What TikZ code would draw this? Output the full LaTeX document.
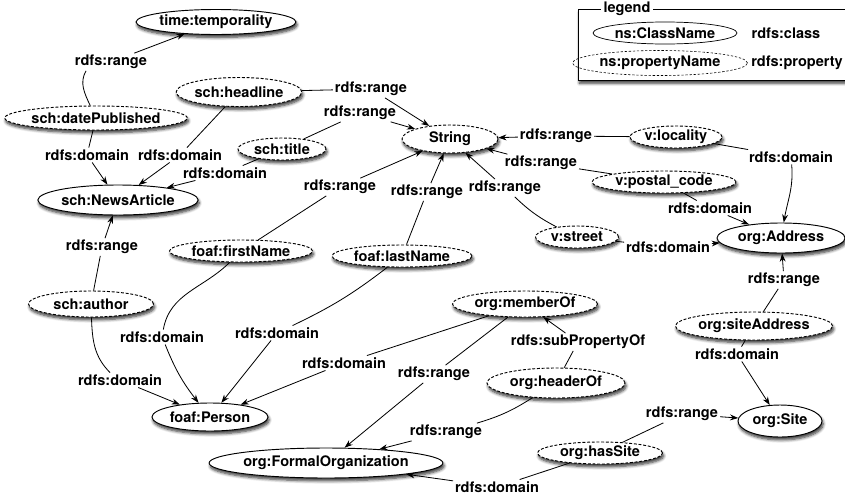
\documentclass[tikz,border=0pt]{standalone}
\usepackage{fontspec}
\setmainfont{TeX Gyre Heros}
\usetikzlibrary{shapes.geometric,arrows.meta,shadows.blur}

\begin{document}
\begin{tikzpicture}[
    x=0.03cm, y=0.03cm,
    font=\bfseries\fontsize{12.4}{14}\selectfont,
    sz/.style 2 args={minimum width=#1*0.03cm, minimum height=#2*0.03cm},
    dropsh/.style={blur shadow={shadow xshift=1pt, shadow yshift=-2.5pt,
        shadow blur radius=2.5pt, shadow blur steps=6, shadow opacity=80}},
    cls/.style={ellipse, draw, line width=0.8pt, fill=white, inner sep=0pt, dropsh},
    prop/.style={cls, dash pattern=on 2.5pt off 1.5pt},
    lbl/.style={fill=white, inner sep=1.5pt},
    ln/.style={line width=0.7pt},
    arr/.style={ln, -{Stealth[length=7pt,width=5pt]}}
  ]
  \useasboundingbox (0,0) rectangle (845,-497);

  % legend
  \node[draw, line width=0.6pt, fill=white, dropsh, anchor=north west,
        minimum width=290*0.03cm, minimum height=71*0.03cm] (legendbox) at (578,-9) {};
  \node[fill=white, inner sep=2pt] (legendtitle) at (627,-9) {legend};
  \node[ellipse, draw, line width=0.6pt, inner sep=0pt, sz={144}{22}] (keycls) at (665,-33) {ns:ClassName};
  \node[ellipse, draw, line width=0.5pt, dash pattern=on 2pt off 1.5pt, inner sep=0pt,
        sz={175}{25}] (keyprop) at (660,-63) {ns:propertyName};
  \node (keyclstxt) at (786,-33) {rdfs:class};
  \node (keyproptxt) at (797,-63) {rdfs:property};

  % classes and properties
  \node[cls, sz={157}{25}] (temporality) at (216,-22) {time:temporality};
  \node[prop, sz={125}{29}] (headline) at (239,-92) {sch:headline};
  \node[prop, sz={180}{24}] (datepub) at (96,-118) {sch:datePublished};
  \node[prop, sz={88}{22}] (title) at (282,-149) {sch:title};
  \node[prop, sz={96}{28}] (string) at (450,-139) {String};
  \node[cls, sz={153}{30}] (news) at (118,-200) {sch:NewsArticle};
  \node[prop, sz={92}{22}] (locality) at (676,-137) {v:locality};
  \node[prop, sz={144}{22}] (postal) at (664,-182) {v:postal\_code};
  \node[prop, sz={83}{22}] (street) at (577,-237) {v:street};
  \node[cls, sz={128}{30}] (address) at (781,-238) {org:Address};
  \node[prop, sz={143}{22}] (firstname) at (241,-251) {foaf:firstName};
  \node[prop, sz={140}{22}] (lastname) at (402,-256) {foaf:lastName};
  \node[prop, sz={125}{26}] (author) at (91,-304) {sch:author};
  \node[prop, sz={145}{26}] (memberof) at (525,-304) {org:memberOf};
  \node[prop, sz={153}{28}] (siteaddr) at (754,-326) {org:siteAddress};
  \node[prop, sz={138}{30}] (headerof) at (556,-383) {org:headerOf};
  \node[cls, sz={116}{28}] (person) at (210,-417) {foaf:Person};
  \node[cls, sz={84}{32}] (site) at (780,-421) {org:Site};
  \node[prop, sz={125}{22}] (hassite) at (600,-453) {org:hasSite};
  \node[cls, sz={222}{30}] (formalorg) at (326,-463) {org:FormalOrganization};

  % edge labels
  \node[lbl] (rngA) at (111,-62) {rdfs:range};
  \node[lbl] (domA) at (87,-155) {rdfs:domain};
  \node[lbl] (domB) at (180,-155) {rdfs:domain};
  \node[lbl] (domC) at (225,-173) {rdfs:domain};
  \node[lbl] (rngB) at (371,-89) {rdfs:range};
  \node[lbl] (rngC) at (360,-113) {rdfs:range};
  \node[lbl] (rngD) at (556,-136) {rdfs:range};
  \node[lbl] (rngE) at (541,-163) {rdfs:range};
  \node[lbl] (domD) at (791,-157) {rdfs:domain};
  \node[lbl] (domE) at (710,-208) {rdfs:domain};
  \node[lbl] (domF) at (668,-247) {rdfs:domain};
  \node[lbl] (rngF) at (505,-188) {rdfs:range};
  \node[lbl] (rngG) at (340,-187) {rdfs:range};
  \node[lbl] (rngH) at (427,-192) {rdfs:range};
  \node[lbl] (rngI) at (102,-247) {rdfs:range};
  \node[lbl] (domG) at (120,-380) {rdfs:domain};
  \node[lbl] (domH) at (162,-337) {rdfs:domain};
  \node[lbl] (domI) at (277,-333) {rdfs:domain};
  \node[lbl] (domJ) at (344,-363) {rdfs:domain};
  \node[lbl] (rngJ) at (434,-374) {rdfs:range};
  \node[lbl] (subA) at (578,-342) {rdfs:subPropertyOf};
  \node[lbl] (rngK) at (446,-432) {rdfs:range};
  \node[lbl] (domK) at (497,-487) {rdfs:domain};
  \node[lbl] (rngL) at (682,-414) {rdfs:range};
  \node[lbl] (rngM) at (784,-280) {rdfs:range};
  \node[lbl] (domL) at (737,-354) {rdfs:domain};

  % property -> label -> class
  \draw[ln] (datepub) to[out=115,in=-120] ([xshift=-0.75cm]rngA.south);
  \draw[arr] (rngA) -- (temporality);
  \draw[ln] (datepub) -- (domA);  \draw[arr] (domA) -- (news);
  \draw[ln] (headline) -- (domB); \draw[arr] (domB) -- (news);
  \draw[ln] (title) -- (domC);    \draw[arr] (domC) -- (news);
  \draw[ln] (headline) -- (rngB); \draw[arr] (rngB) -- (string);
  \draw[ln] (title) -- (rngC);    \draw[arr] (rngC) -- (string);
  \draw[ln] (locality) -- (rngD); \draw[arr] (rngD) -- (string);
  \draw[ln] (postal) -- (rngE);   \draw[arr] (rngE) -- (string);
  \draw[ln] (locality) -- (domD);
  \draw[arr] (domD) to[out=-85,in=80] (address);
  \draw[ln] (postal) -- (domE);   \draw[arr] (domE) -- (address);
  \draw[ln] (street) -- (domF);   \draw[arr] (domF) -- (address);
  \draw[ln] (street) to[bend left=8] (rngF); \draw[arr] (rngF) -- (string);
  \draw[ln] (firstname) -- (rngG); \draw[arr] (rngG) -- (string);
  \draw[ln] (lastname) -- (rngH);  \draw[arr] (rngH) -- (string);
  \draw[ln] (author) -- (rngI);    \draw[arr] (rngI) -- (news);
  \draw[ln] (author) to[out=-88,in=135] ([xshift=-0.3cm]domG.north);
  \draw[arr] (domG) -- (person);
  \draw[ln] (firstname) to[out=-135,in=80] (domH);
  \draw[arr] (domH) to[bend right=8] (person);
  \draw[ln] (lastname) to[bend left=6] (domI); \draw[arr] (domI) -- (person);
  \draw[ln] (memberof) -- (domJ);  \draw[arr] (domJ) -- (person);
  \draw[ln] (memberof) -- (rngJ);  \draw[arr] (rngJ) -- (formalorg);
  \draw[ln] (headerof) -- (subA);  \draw[arr] (subA) -- (memberof);
  \draw[ln] (headerof) to[bend left=8] (rngK); \draw[arr] (rngK) -- (formalorg);
  \draw[ln] (hassite) -- (domK);   \draw[arr] (domK) -- (formalorg);
  \draw[ln] (hassite) -- (rngL);   \draw[arr] (rngL) -- (site);
  \draw[ln] (siteaddr) -- (rngM);  \draw[arr] (rngM) -- (address);
  \draw[ln] (siteaddr) -- (domL);  \draw[arr] (domL) -- (site);
\end{tikzpicture}
\end{document}
